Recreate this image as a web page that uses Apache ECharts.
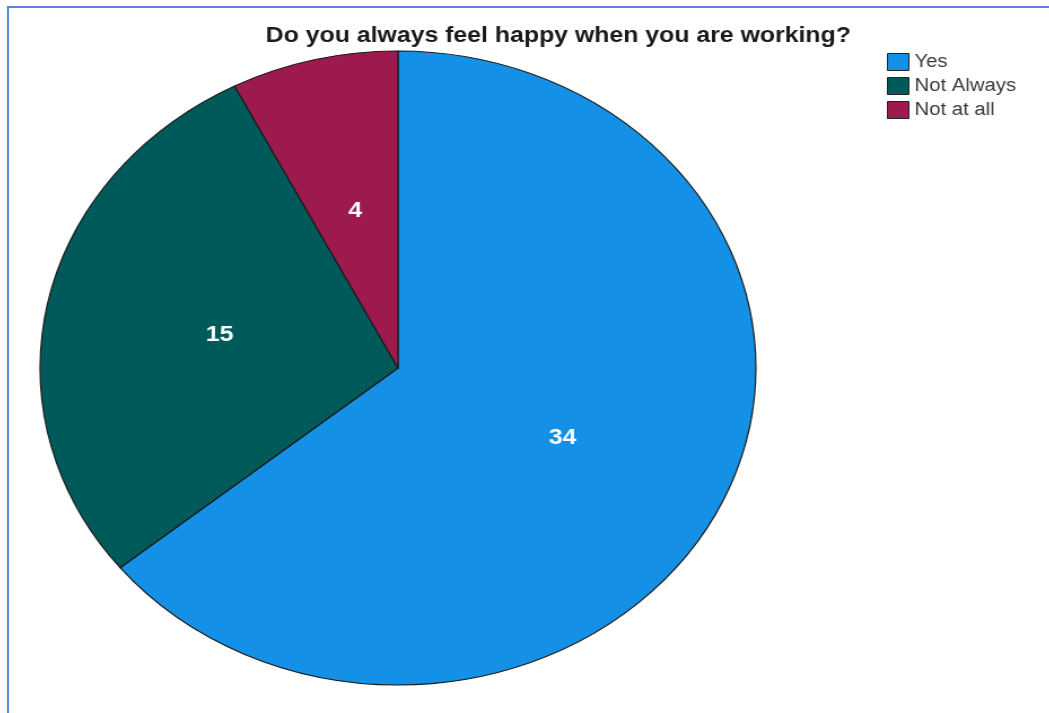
<!DOCTYPE html>
<html>
<head>
<meta charset="utf-8">
<script src="https://cdn.jsdelivr.net/npm/echarts@6/dist/echarts.min.js"></script>
<style>
  html, body { margin: 0; padding: 0; background: #fff; }
  #wrap { position: relative; width: 1049px; height: 713px; overflow: hidden; }
  #frame-line { position: absolute; left: 7px; top: 6px; width: 1100px; height: 800px;
    border-left: 2px solid #5b86d8; border-top: 2px solid #5b86d8; box-sizing: border-box; }
  /* the whole chart is shown widened: stretch the layer horizontally around the pie centre */
  #chart { position: absolute; left: 0; top: 0; width: 1049px; height: 713px;
    transform-origin: 398px 368px; transform: scaleX(1.129); }
</style>
</head>
<body>
<div id="wrap">
  <div id="frame-line"></div>
  <div id="chart"></div>
</div>
<script>
const titleText = 'Do you always feel happy when you are working?';
const categories = ['Yes', 'Not Always', 'Not at all'];
const counts = [34, 15, 4];
const colors = ['#1490e6', '#005a5a', '#9c1a4e'];

const pieData = categories.map((name, i) => ({ name: name, value: counts[i] }));
const fontFamily = 'Liberation Sans, Arial, sans-serif';

const chart = echarts.init(document.getElementById('chart'), null, { renderer: 'canvas' });
chart.setOption({
  animation: false,
  color: colors,
  title: {
    text: titleText,
    left: 535,
    textAlign: 'center',
    top: 20,
    textStyle: {
      fontFamily: fontFamily,
      fontWeight: 'bold',
      fontSize: 22,
      color: '#1a1a1a'
    }
  },
  legend: {
    orient: 'vertical',
    left: 831,
    top: 53,
    padding: 0,
    itemWidth: 19,
    itemHeight: 17,
    itemGap: 6,
    icon: 'rect',
    selectedMode: false,
    itemStyle: { borderColor: '#222', borderWidth: 1 },
    textStyle: {
      fontFamily: fontFamily,
      fontSize: 18,
      color: '#3a3a3a'
    },
    data: categories
  },
  series: [{
    type: 'pie',
    center: [398, 368],
    radius: 317,
    startAngle: 90,
    clockwise: true,
    silent: true,
    itemStyle: { borderColor: '#1a1a1a', borderWidth: 1.2 },
    label: {
      show: true,
      position: 'inside',
      formatter: '{c}',
      color: '#ffffff',
      fontFamily: fontFamily,
      fontWeight: 'bold',
      fontSize: 22
    },
    labelLine: { show: false },
    data: pieData
  }]
});
</script>
</body>
</html>
